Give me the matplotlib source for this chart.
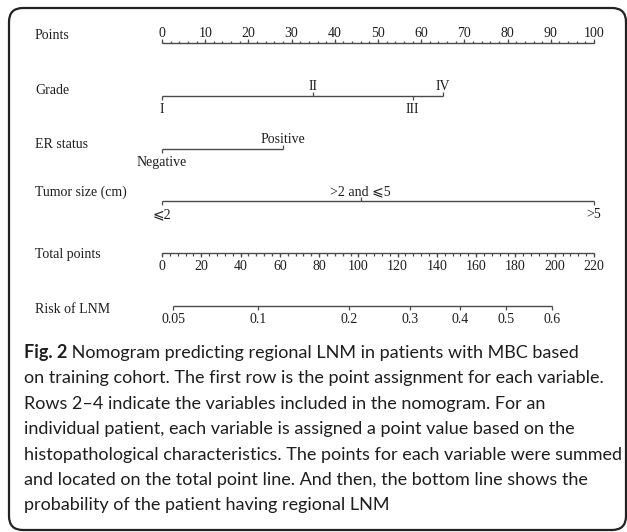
import numpy as np
import matplotlib
matplotlib.use("Agg")
import matplotlib.pyplot as plt
from matplotlib.patches import FancyBboxPatch
from matplotlib.transforms import IdentityTransform

# ---- values ----
points_major = [0, 10, 20, 30, 40, 50, 60, 70, 80, 90, 100]
points_minor_step = 2

grade_levels = ["I", "II", "III", "IV"]
grade_points = [0, 35, 58, 65]

er_levels = ["Negative", "Positive"]
er_points = [0, 28]

tumor_levels = ["\u2a7d2", ">2 and \u2a7d5", ">5"]
tumor_points = [0, 46, 100]

total_major = [0, 20, 40, 60, 80, 100, 120, 140, 160, 180, 200, 220]
total_minor_step = 4
total_max = 220

risk_ticks = [0.05, 0.1, 0.2, 0.3, 0.4, 0.5, 0.6]
risk_labels = ["0.05", "0.1", "0.2", "0.3", "0.4", "0.5", "0.6"]
# linear predictor: logit(risk) = lp_slope * (total - lp_center)
lp_center = 175.2
lp_slope = 0.01738

caption_head = "Fig. 2"
caption_first = " Nomogram predicting regional LNM in patients with MBC based"
caption = [
    "on training cohort. The first row is the point assignment for each variable.",
    "Rows 2\u20134 indicate the variables included in the nomogram. For an",
    "individual patient, each variable is assigned a point value based on the",
    "histopathological characteristics. The points for each variable were summed",
    "and located on the total point line. And then, the bottom line shows the",
    "probability of the patient having regional LNM",
]

# ---- layout ----
W, H = 627, 532
LINE = "#4a4a4a"
TXT = "#1e1e1e"
SERIF = ["Liberation Serif", "DejaVu Serif", "DejaVu Sans"]
FS = 10

fig = plt.figure(figsize=(W / 100, H / 100), dpi=100)
x0_px, x100_px = 162, 594
ppp = (x100_px - x0_px) / 100.0
ax = fig.add_axes([0, 0, 1, 1])
ax.set_xlim(-x0_px / ppp, (W - x0_px) / ppp)
ax.set_ylim(H, 0)
ax.axis("off")


def label_row(text, y):
    ax.text((35 - x0_px) / ppp, y, text, ha="left", va="baseline",
            fontsize=FS, family=SERIF, color=TXT)


def hline(x1, x2, y):
    ax.plot([x1, x2], [y, y], color=LINE, lw=1.0, solid_capstyle="butt")


def tick(x, y, d, ln):
    ax.plot([x, x], [y, y + d * ln], color=LINE, lw=0.9, solid_capstyle="butt")


def tick_label(x, y, text, side):
    yy = y - 6 if side == "above" else y + 17
    ax.text(x, yy, text, ha="center", va="baseline", fontsize=FS,
            family=SERIF, color=TXT)


# Points
y = 43
label_row("Points", 39)
hline(0, 100, y)
for v in np.arange(0, 100 + 0.1, points_minor_step):
    tick(v, y, -1, 2.5)
for v in points_major:
    tick(v, y, -1, 4)
    tick_label(v, y, str(v), "above")


# Variable rows: labels alternate below / above along the line
def var_row(name, y, ly, pts, levels, sides):
    label_row(name, ly)
    hline(min(pts), max(pts), y)
    for p, lab, side in zip(pts, levels, sides):
        tick(p, y, 1 if side == "below" else -1, 4)
        tick_label(p, y, lab, side)


var_row("Grade", 96, 94, grade_points, grade_levels,
        ["below", "above", "below", "above"])
var_row("ER status", 149, 148, er_points, er_levels, ["below", "above"])
var_row("Tumor size (cm)", 201, 196, tumor_points, tumor_levels,
        ["below", "above", "below"])

# Total points
y = 253
label_row("Total points", 258)
sc = 100.0 / total_max
hline(0, 100, y)
for v in np.arange(0, total_max + 0.1, total_minor_step):
    tick(v * sc, y, 1, 2.5)
for v in total_major:
    tick(v * sc, y, 1, 4)
    tick_label(v * sc, y, str(v), "below")

# Risk of LNM
y = 306
label_row("Risk of LNM", 313)
risk = np.array(risk_ticks)
tot = lp_center + np.log(risk / (1 - risk)) / lp_slope
rx = tot * sc
hline(rx.min(), rx.max(), y)
for x, lab in zip(rx, risk_labels):
    tick(x, y, 1, 4)
    tick_label(x, y, lab, "below")

# ---- caption ----
CAP = ["Lato", "DejaVu Sans"]
fig.canvas.draw()
r = fig.canvas.get_renderer()
widths = []
for line in caption + [caption_head + caption_first]:
    probe = fig.text(0, 0, line, fontsize=12, family=CAP)
    widths.append(probe.get_window_extent(r).width)
    probe.remove()
cfs = 12 * 594.0 / max(widths)

cx = 24
base0 = 358
step = 25.4
head = fig.text(cx / W, 1 - base0 / H, caption_head, fontsize=cfs, family=CAP,
                weight="bold", color=TXT, va="baseline")
fig.canvas.draw()
hx = head.get_window_extent(r).x1
fig.text(hx / W, 1 - base0 / H, caption_first, fontsize=cfs, family=CAP,
         color=TXT, va="baseline")
for i, line in enumerate(caption):
    fig.text(cx / W, 1 - (base0 + step * (i + 1)) / H, line, fontsize=cfs,
             family=CAP, color=TXT, va="baseline")

# rounded frame
frame = FancyBboxPatch((9, H - 530), 626 - 9, 530 - 8,
                       boxstyle="round,pad=0,rounding_size=14",
                       transform=IdentityTransform(), fill=False,
                       edgecolor="#222222", lw=1.6)
fig.patches.append(frame)

fig.savefig("out.png", dpi=100)
